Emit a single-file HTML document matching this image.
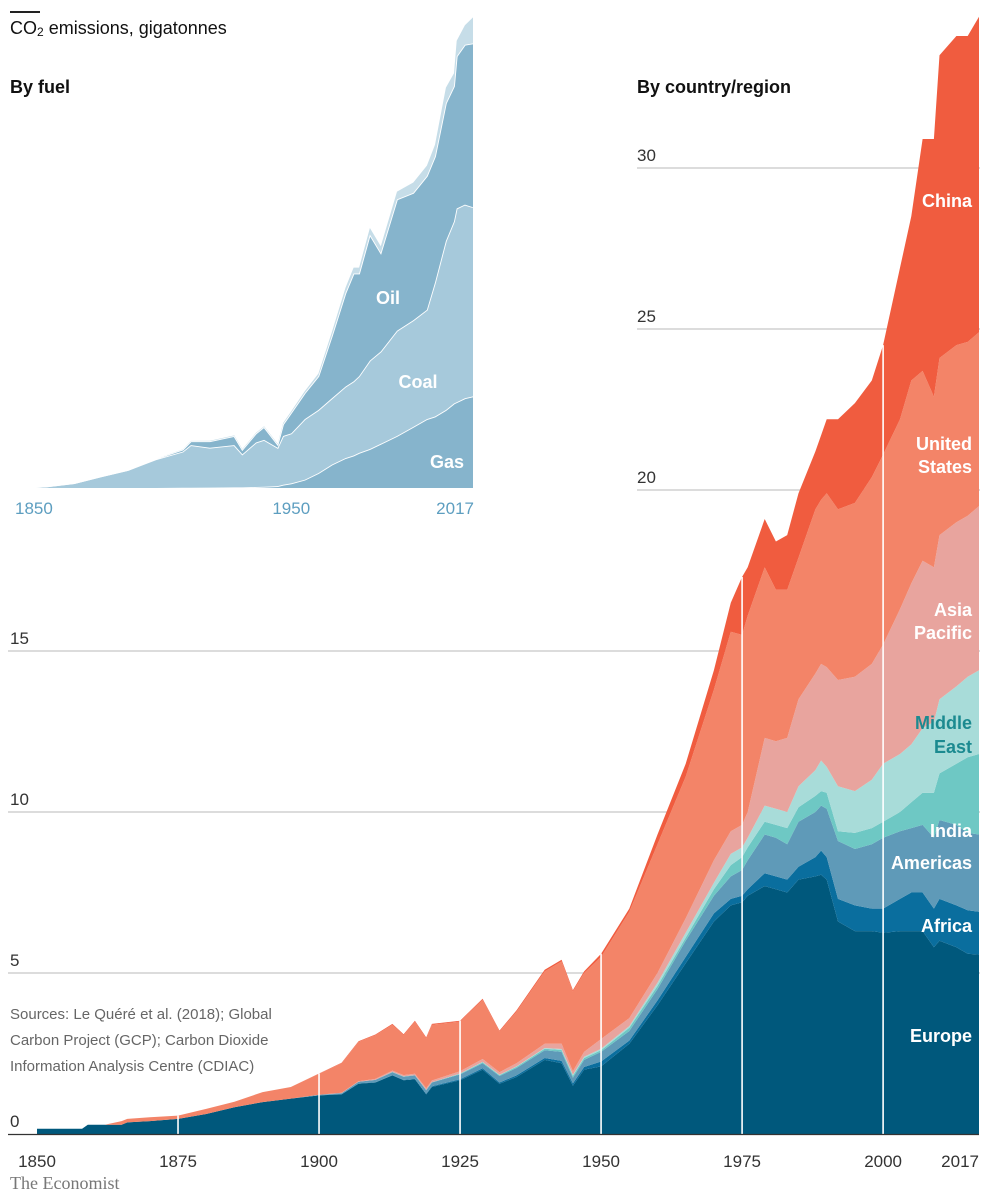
<!DOCTYPE html>
<html><head><meta charset="utf-8">
<style>
body{margin:0;background:#fff;}
svg{display:block;font-family:"Liberation Sans",sans-serif;}
</style></head>
<body>
<svg id="chart" width="1001" height="1200" viewBox="0 0 1001 1200">
<g id="grid"></g>
<g id="mainAreas"></g>
<g id="vlines"></g>
<g id="inset"></g>
<g id="labels"></g>
</svg>
<script>
// ---------- Main chart data (gigatonnes) ----------
const years = [1850,1858,1859,1862,1865,1866,1870,1875,1880,1885,1890,1895,1900,1904,1907,1910,1913,1915,1917,1919,1920,1925,1929,1932,1935,1940,1943,1945,1947,1950,1955,1960,1965,1970,1973,1975,1976,1979,1981,1983,1985,1988,1989,1990,1992,1995,1998,2000,2003,2005,2007,2009,2010,2013,2015,2017];
const europe = [.16,.16,.29,.29,.29,.36,.40,.47,.62,.83,.99,1.1,1.2,1.23,1.56,1.6,1.82,1.67,1.7,1.23,1.46,1.67,2.0,1.56,1.77,2.3,2.2,1.5,2.0,2.1,2.8,4.0,5.3,6.6,7.1,7.2,7.4,7.7,7.6,7.5,7.9,8.0,8.05,7.9,6.6,6.3,6.3,6.25,6.3,6.3,6.3,5.8,6.0,5.8,5.6,5.57];
const africa = [0,0,0,0,0,0,0,0,0,0,0,0,0,.01,.01,.01,.01,.01,.01,.02,.02,.03,.04,.04,.05,.06,.07,.07,.08,.15,.1,.15,.2,.25,.2,.2,.2,.4,.4,.4,.4,.6,.75,.7,.7,.8,.7,.75,1.0,1.2,1.2,1.2,1.3,1.3,1.35,1.33];
const americas = [0,0,0,0,0,0,0,0,0,0,0,0,.02,.03,.05,.07,.09,.1,.11,.11,.12,.15,.16,.2,.23,.24,.28,.18,.22,.3,.3,.35,.5,.55,.7,.8,.9,1.2,1.2,1.1,1.4,1.4,1.4,1.5,1.8,1.75,2.0,2.2,2.1,2.0,2.1,2.2,2.45,2.5,2.4,2.4];
const india = [0,0,0,0,0,0,0,0,0,0,0,0,0,0,0,0,.01,.01,.01,.01,.01,.02,.03,.03,.04,.05,.06,.06,.06,.05,.1,.1,.1,.2,.35,.4,.4,.4,.4,.5,.45,.5,.45,.5,.3,.5,.5,.5,.6,.8,1.0,1.4,1.45,1.9,2.35,2.5];
const middleEast = [0,0,0,0,0,0,0,0,0,0,0,0,0,0,0,0,0,0,0,0,0,.01,.01,.01,.01,.02,.03,.03,.04,.05,.05,.1,.15,.2,.35,.3,.3,.5,.5,.5,.65,.8,.95,.8,1.4,1.3,1.5,1.8,1.8,1.8,2.0,2.2,2.3,2.4,2.5,2.6];
const asiaPacific = [0,0,0,0,0,0,0,0,0,0,0,0,0,.01,.02,.03,.04,.04,.04,.05,.05,.07,.09,.08,.1,.13,.16,.11,.15,.3,.25,.3,.45,.7,.7,.7,.8,2.1,2.1,2.3,2.7,3.0,3.0,3.1,3.3,3.55,3.6,3.7,4.5,5.0,5.2,4.8,5.1,5.1,5.0,5.1];
const unitedStates = [0,0,0,0,.11,.11,.12,.10,.16,.17,.31,.36,.65,.92,1.22,1.36,1.42,1.24,1.62,1.55,1.73,1.54,1.84,1.26,1.6,2.25,2.56,2.48,2.45,2.55,3.3,4.0,4.4,5.3,6.2,5.9,6.1,5.3,4.7,4.6,4.4,5.1,5.1,5.4,5.3,5.4,5.8,5.9,5.9,6.3,5.9,5.3,5.5,5.5,5.4,5.4];
const china = [0,0,0,0,0,0,0,0,0,0,0,0,.01,.01,.02,.02,.03,.03,.03,.03,.03,.03,.03,.03,.04,.05,.05,.04,.05,.1,.1,.3,.4,.6,.9,1.8,1.5,1.5,1.5,1.7,2.0,1.8,2.0,2.3,2.8,3.1,3.0,3.4,4.7,5.1,7.2,8.0,9.4,9.6,9.5,9.8];
const yTicks = [0,5,10,15,20,25,30];
const xTicks = [1850,1875,1900,1925,1950,1975,2000];

// ---------- Inset data (by fuel) ----------
const fuelYears = [1850,1860,1870,1880,1890,1900,1910,1913,1920,1929,1932,1937,1940,1945,1947,1950,1955,1960,1965,1970,1973,1975,1979,1983,1989,1995,2000,2003,2007,2010,2011,2014,2017];
const gas = [0,0,0,0,0,0,.02,.02,.03,.05,.05,.08,.1,.15,.25,.35,.64,1.15,1.8,2.3,2.5,2.7,3.0,3.4,4.0,4.7,5.3,5.5,6.0,6.5,6.6,6.9,7.05];
const coal = [0,.13,.38,.9,1.4,2.2,2.78,3.28,3.07,3.25,2.55,3.42,3.6,2.95,3.75,3.85,4.66,4.85,5.1,5.5,5.7,5.9,6.8,7.1,8.1,8.2,8.4,10.3,13.0,14.0,14.9,14.9,14.55];
const oil = [0,0,0,0,0,.05,.15,.3,.5,.7,.35,.7,1.0,.25,.9,1.6,2.0,2.6,4.8,7.2,8.3,7.9,9.7,7.6,10.1,9.8,10.3,9.7,10.6,10.4,11.7,12.3,12.6];
const otherFuel = [0,0,0,0,0,0,.02,.02,.03,.05,.05,.05,.05,.05,.1,.1,.15,.2,.3,.4,.45,.45,.5,.5,.6,.8,.8,.9,1.2,1.0,1.2,1.5,2.0];

const NS = "http://www.w3.org/2000/svg";
function mk(tag, attrs, parent){const e=document.createElementNS(NS,tag);for(const k in attrs)e.setAttribute(k,attrs[k]);parent.appendChild(e);return e;}

const xS = yr => 37 + (yr-1850)*(942/167);
const yS = v => 1134 - v*32.2;
const ixS = yr => 20 + (yr-1850)*(453/167);
const iyS = v => 488 - v*13;

function stack(seriesList, yrs, xf, yf, colors, names, group, strokeWhite){
  let base = yrs.map(()=>0);
  seriesList.forEach((s,i)=>{
    const top = base.map((b,j)=>b+(s[j]||0));
    let d = "M"+yrs.map((y,j)=>xf(y).toFixed(1)+","+yf(top[j]).toFixed(1)).join("L");
    for(let j=yrs.length-1;j>=0;j--) d += "L"+xf(yrs[j]).toFixed(1)+","+yf(base[j]).toFixed(1);
    d += "Z";
    const p = mk("path",{d:d,fill:colors[i]},group);
    
    
    if(strokeWhite && i<seriesList.length-1){
      const l = mk("path",{d:"M"+yrs.map((y,j)=>xf(y).toFixed(1)+","+yf(top[j]).toFixed(1)).join("L"),fill:"none",stroke:"#fff","stroke-width":1.8},group);
      
      
    }
    base = top;
  });
  return base;
}

const grid = document.getElementById("grid");
yTicks.forEach(t=>{
  if(t===0) return;
  const x0 = t>=20 ? 637 : 8;
  const ln = mk("line",{x1:x0,x2:980,y1:yS(t),y2:yS(t),stroke:"#c8c8c8","stroke-width":1.2},grid);
  
  
});

const mainG = document.getElementById("mainAreas");
const totals = stack([europe,africa,americas,india,middleEast,asiaPacific,unitedStates,china], years, xS, yS,
  ["#00587c","#0a6e9e","#5f9ab8","#6ec8c4","#a8dcd9","#e8a49e","#f38468","#f05c3f"],
  ["area-europe","area-africa","area-americas","area-india","area-middle-east","area-asia-pacific","area-united-states","area-china"], mainG, false);

function totalAt(yr){
  for(let j=0;j<years.length-1;j++){
    if(yr>=years[j] && yr<=years[j+1]){
      const f=(yr-years[j])/(years[j+1]-years[j]);
      return totals[j]+(totals[j+1]-totals[j])*f;
    }
  }
  return totals[totals.length-1];
}

const vl = document.getElementById("vlines");
xTicks.forEach(t=>{
  if(t===1850) return;
  const l = mk("line",{x1:xS(t),x2:xS(t),y1:1134,y2:yS(totalAt(t)),stroke:"#fff","stroke-width":1.6},vl);
  
  
});
const base = mk("line",{x1:8,x2:979,y1:1134.5,y2:1134.5,stroke:"#333","stroke-width":1.3},vl);



const inset = document.getElementById("inset");
stack([gas,coal,oil,otherFuel], fuelYears, ixS, iyS,
  ["#86b4cc","#a6c9db","#86b4cc","#c6dde8"],
  ["inset-gas","inset-coal","inset-oil","inset-other"], inset, true);

const lab = document.getElementById("labels");
function txt(s,x,y,opts){
  const t = mk("text",Object.assign({x:x,y:y,"font-size":17,fill:"#333"},opts||{}),lab);
  t.textContent = s;
  return t;
}
yTicks.forEach(t=>{
  const el = txt(String(t), t>=20?637:10, yS(t)-7, {"font-size":17});
  
  
});
xTicks.forEach(t=>{
  const el = txt(String(t), xS(t), 1167, {"text-anchor":"middle","font-size":17});
  
  
});
const last = txt("2017", 979, 1167, {"text-anchor":"end"});



const regionLabels = [["China",200],["United",443],["States",466],["Asia",609],["Pacific",632],["Middle",722],["East",746],["India",830],["Americas",862],["Africa",925],["Europe",1035]];
regionLabels.forEach(r=>{
  const teal = (r[0]==="Middle"||r[0]==="East");
  const el = txt(r[0], 972, r[1]+7, {"text-anchor":"end","font-size":18,"font-weight":"bold",fill:teal?"#1b8a90":"#fff"});
  
  
});

[["Oil",388,304],["Coal",418,388],["Gas",447,468]].forEach(r=>{
  const el = txt(r[0], r[1], r[2], {"text-anchor":"middle","font-size":18,"font-weight":"bold",fill:"#fff"});
  
  
});
[["1850",15,"start"],["1950",ixS(1950),"middle"],["2017",474,"end"]].forEach(r=>{
  const el = txt(r[0], r[1], 514, {"text-anchor":r[2],fill:"#5d9ec0"});
  
  
});
</script>
<div style="position:absolute;left:0;top:0;width:1001px;height:1200px;pointer-events:none;font-family:'Liberation Sans',sans-serif;">
  <div style="position:absolute;left:10px;top:11px;width:30px;height:2px;background:#222;"></div>
  <div style="position:absolute;left:10px;top:18px;font-size:18px;color:#111;">CO<sub style="font-size:12px;vertical-align:-2px;">2</sub> emissions, gigatonnes</div>
  <div style="position:absolute;left:10px;top:77px;font-size:18px;font-weight:bold;color:#111;">By fuel</div>
  <div style="position:absolute;left:637px;top:77px;font-size:18px;font-weight:bold;color:#111;">By country/region</div>
  <div style="position:absolute;left:10px;top:1002px;font-size:15px;line-height:26px;color:#666;">Sources: Le Quéré et al. (2018); Global<br>Carbon Project (GCP); Carbon Dioxide<br>Information Analysis Centre (CDIAC)</div>
  <div style="position:absolute;left:10px;top:1173px;font-size:18px;font-family:'Liberation Serif',serif;color:#777;">The Economist</div>
</div>
</body></html>
